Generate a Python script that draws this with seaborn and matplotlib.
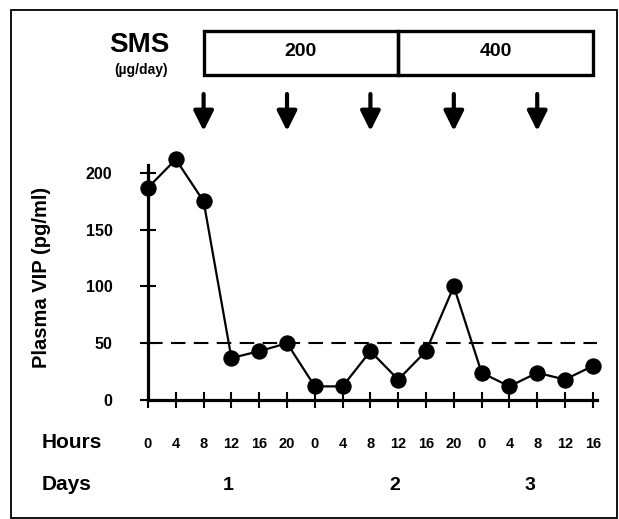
import numpy as np
import pandas as pd
import matplotlib
matplotlib.use("Agg")
import matplotlib.pyplot as plt
from matplotlib.patches import Rectangle
import seaborn as sns

# Sampling clock: elapsed hours since the first sample, and the clock hour shown
elapsed_hours = [0, 4, 8, 12, 16, 20, 24, 28, 32, 36, 40, 44, 48, 52, 56, 60, 64]
clock_hours = ["0", "4", "8", "12", "16", "20", "0", "4", "8", "12", "16", "20",
               "0", "4", "8", "12", "16"]
plasma_vip = [187, 212, 175, 37, 43, 50, 12, 12, 43, 18, 43, 100, 24, 12, 24, 18, 30]

# Somatostatin (SMS) dosing
dose_labels = ["200", "400"]
dose_start = [8, 36]
dose_end = [36, 64]
injection_hours = [8, 20, 32, 44, 56]

day_labels = ["1", "2", "3"]
day_label_pos = [11.5, 35.5, 55]

upper_normal = 50
y_ticks = [0, 50, 100, 150, 200]

df = pd.DataFrame({"elapsed": elapsed_hours, "vip": plasma_vip})

sns.set_style("ticks")
plt.rcParams["font.family"] = ["Liberation Sans", "DejaVu Sans"]
plt.rcParams["font.weight"] = "bold"
plt.rcParams["text.color"] = "black"
plt.rcParams["xtick.color"] = "black"
plt.rcParams["ytick.color"] = "black"
plt.rcParams["axes.labelcolor"] = "black"

W, H = 619, 519
fig = plt.figure(figsize=(W / 100, H / 100), dpi=100)
ax_left, ax_right, ax_bottom, ax_top = 148, 597, 400, 165
ax = fig.add_axes([ax_left / W, (H - ax_bottom) / H,
                   (ax_right - ax_left) / W, (ax_bottom - ax_top) / H])

sns.lineplot(data=df, x="elapsed", y="vip", ax=ax, color="black", lw=1.6,
             marker="o", markersize=11, markeredgecolor="black",
             markerfacecolor="black", clip_on=False, zorder=3)
ax.axhline(upper_normal, color="black", lw=1.5, dashes=(7, 4), zorder=2)

ax.set_xlim(0, 64.6)
ax.set_ylim(0, 207)
ax.set_xticks(elapsed_hours)
ax.set_xticklabels(clock_hours, fontsize=10.5, fontweight="bold")
ax.set_yticks(y_ticks)
ax.set_yticklabels([str(v) for v in y_ticks], fontsize=11.5, fontweight="bold")
ax.tick_params(axis="both", direction="inout", length=11, width=1.5,
               color="black", labelcolor="black")
ax.tick_params(axis="x", pad=21)
ax.tick_params(axis="y", pad=20)
for side in ("top", "right"):
    ax.spines[side].set_visible(False)
for side in ("left", "bottom"):
    ax.spines[side].set_linewidth(2.3)
    ax.spines[side].set_color("black")
ax.set_xlabel("")
ax.set_ylabel("Plasma VIP (pg/ml)", fontsize=14.5, fontweight="bold")
ax.yaxis.set_label_coords((51 - ax_left) / (ax_right - ax_left), 0.523)

trans = ax.get_xaxis_transform()
span = ax_bottom - ax_top


def yfrac(py):
    return (ax_bottom - py) / span


# Dose box
box_top, box_bot = 31, 75
for label, s, e in zip(dose_labels, dose_start, dose_end):
    ax.add_patch(Rectangle((s, yfrac(box_bot)), e - s, yfrac(box_top) - yfrac(box_bot),
                           transform=trans, fill=False, lw=2.4, edgecolor="black",
                           clip_on=False))
    ax.text((s + e) / 2, yfrac(52), label, transform=trans, ha="center", va="center",
            fontsize=14, fontweight="bold")

# Injection arrows
for h in injection_hours:
    ax.annotate("", xy=(h, yfrac(131)), xytext=(h, yfrac(94)),
                xycoords=trans, textcoords=trans,
                arrowprops=dict(arrowstyle="-|>,head_length=0.6,head_width=0.3",
                                lw=3, color="black", mutation_scale=20,
                                shrinkA=0, shrinkB=0))

# Day labels
for lab, x in zip(day_labels, day_label_pos):
    ax.text(x, yfrac(485), lab, transform=trans, ha="center", va="center",
            fontsize=14, fontweight="bold")

fig.text(139 / W, 1 - 45 / H, "SMS", ha="center", va="center",
         fontsize=20, fontweight="bold")
fig.text(141 / W, 1 - 70 / H, "(\u00b5g/day)", ha="center", va="center",
         fontsize=10, fontweight="bold")
fig.text(42 / W, 1 - 443 / H, "Hours", ha="left", va="center",
         fontsize=15, fontweight="bold")
fig.text(42 / W, 1 - 485 / H, "Days", ha="left", va="center",
         fontsize=15, fontweight="bold")

# Outer frame
fig.add_artist(Rectangle((11 / W, 1 - 518 / H), 606 / W, 508 / H,
                         transform=fig.transFigure, fill=False, lw=1.3,
                         edgecolor="black"))

fig.savefig("out.png", dpi=100)
